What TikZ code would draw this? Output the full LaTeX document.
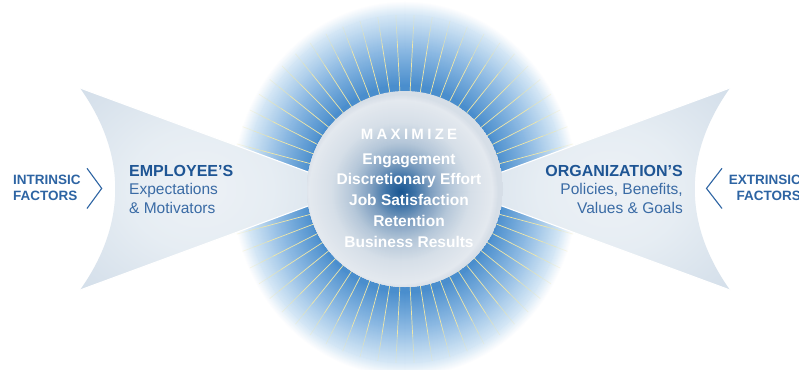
\documentclass[tikz,border=0pt]{standalone}
\usepackage{fontspec}
\setmainfont{Liberation Sans}
\definecolor{glowA}{HTML}{4A8ECD}
\definecolor{glowB}{HTML}{8AB8E2}
\definecolor{glowC}{HTML}{D3E6F5}
\definecolor{coreA}{HTML}{1A5692}
\definecolor{coreB}{HTML}{3F74A8}
\definecolor{coreC}{HTML}{7D9EC0}
\definecolor{coreD}{HTML}{B5C7D9}
\definecolor{coreE}{HTML}{D6DFE8}
\definecolor{coreF}{HTML}{E4E9EF}
\definecolor{coreG}{HTML}{D6DEE7}
\definecolor{wedA}{HTML}{EDF1F6}
\definecolor{wedB}{HTML}{E6EDF3}
\definecolor{wedC}{HTML}{D8E2EC}
\definecolor{wedD}{HTML}{D0DCE8}
\definecolor{wedE}{HTML}{C3D4E4}
\definecolor{wedF}{HTML}{B5CADF}
\definecolor{raycol}{HTML}{EFE7A8}
\definecolor{headblue}{HTML}{1E5594}
\definecolor{bodyblue}{HTML}{3A6BA5}
\definecolor{factblue}{HTML}{2D64A3}
\pgfdeclareradialshading{wedgesh}{\pgfpoint{0bp}{0bp}}{color(0bp)=(wedA); color(15bp)=(wedB); color(30bp)=(wedC); color(40bp)=(wedD); color(55bp)=(wedE); color(71bp)=(wedF); color(80bp)=(wedF)}
\newcommand\headfont{\fontsize{16}{19}\selectfont\bfseries}
\newcommand\bodyfont{\fontsize{15.5}{18.5}\selectfont}
\newcommand\factfont{\fontsize{13.5}{16}\selectfont\bfseries}
\newcommand\ctrfont{\fontsize{15.5}{18}\selectfont\bfseries}
\newcommand\maxfont{\fontsize{15}{17}\selectfont\bfseries}
\tikzset{
  ray/.style={raycol, line width=0.7pt},
  edgeline/.style={white, line width=1.1pt},
  chev/.style={factblue, line width=1.1pt, line join=miter},
  ctr/.style={anchor=base, inner sep=0pt, text=white, font=\ctrfont},
  headL/.style={anchor=base west, inner sep=0pt, text=headblue, font=\headfont},
  bodyL/.style={anchor=base west, inner sep=0pt, text=bodyblue, font=\bodyfont},
  headR/.style={anchor=base east, inner sep=0pt, text=headblue, font=\headfont},
  bodyR/.style={anchor=base east, inner sep=0pt, text=bodyblue, font=\bodyfont},
  factL/.style={anchor=base west, inner sep=0pt, text=factblue, font=\factfont},
  factR/.style={anchor=base east, inner sep=0pt, text=factblue, font=\factfont},
}
\begin{document}
\begin{tikzpicture}[x=1pt,y=-1pt]
\useasboundingbox (0,0) rectangle (799,369);
\clip (0,0) rectangle (799,369);
\fill[white] (0,0) rectangle (799,369);
\coordinate (c) at (405,189);
\coordinate (cg) at (401,192);
% glow (stepped radial gradient, slightly taller than wide)
\foreach \ra/\rb/\ca/\cb in {188/174/white/glowC, 174/139/glowC/glowB, 139/104/glowB/glowA, 104/98/glowA/glowA}{
  \pgfmathtruncatemacro\n{\ra-\rb}
  \foreach \k in {0,...,\n}{
    \pgfmathsetmacro\rr{\ra-\k}
    \pgfmathsetmacro\rx{max(0.92*\rr,98)}
    \pgfmathtruncatemacro\p{100*\k/\n}
    \fill[\cb!\p!\ca] (c) ellipse ({\rx pt} and {\rr pt});
  }
}
% rays
\foreach \a in {3,9,...,357}{
  \draw[ray] (c) ++(\a:98pt) -- ++(\a:50pt);
  \draw[ray, opacity=0.6] (c) ++(\a:148pt) -- ++(\a:14pt);
  \draw[ray, opacity=0.3] (c) ++(\a:162pt) -- ++(\a:12pt);
}
% wedges
\path[shading=wedgesh] (80,88) -- (320,176.4) -- (320,201.6) -- (80,290) .. controls (127,224) and (127,154) .. cycle;
\path[shading=wedgesh] (730,88) -- (490,176.4) -- (490,201.6) -- (730,290) .. controls (683,224) and (683,154) .. cycle;
\draw[edgeline] (74.4,85.9) -- (320,176.4);
\draw[edgeline] (74.4,292.1) -- (320,201.6);
\draw[edgeline] (735.6,85.9) -- (490,176.4);
\draw[edgeline] (735.6,292.1) -- (490,201.6);
% core (stepped radial gradient)
\begin{scope}
\clip (c) circle (98pt);
\fill[coreG] (c) circle (98pt);
\foreach \ra/\rb/\ca/\cb in {98/92/coreG/coreF, 92/70/coreF/coreE, 70/50/coreE/coreD, 50/30/coreD/coreC, 30/15/coreC/coreB, 15/1/coreB/coreA}{
  \pgfmathtruncatemacro\n{\ra-\rb}
  \foreach \k in {0,...,\n}{
    \pgfmathsetmacro\rr{\ra-\k}
    \pgfmathtruncatemacro\p{100*\k/\n}
    \fill[\cb!\p!\ca] (cg) circle (\rr pt);
  }
}
\end{scope}
\node[circle, minimum size=196pt, inner sep=0pt] (core) at (c) {};
% centre text
\node[ctr, font=\maxfont] (max) at (409,139.3) {M\kern3.3pt A\kern3.3pt X\kern3.3pt I\kern3.3pt M\kern3.3pt I\kern3.3pt Z\kern3.3pt E};
\node[ctr] (eng) at (409,164) {Engagement};
\node[ctr] (dis) at (409,184.8) {Discretionary Effort};
\node[ctr] (job) at (409,205.6) {Job Satisfaction};
\node[ctr] (ret) at (409,226.4) {Retention};
\node[ctr] (bus) at (409,247.2) {Business Results};
% left text
\node[factL] (intr) at (13,184.3) {INTRINSIC};
\node[factL] (intf) at (13,200.7) {FACTORS};
\coordinate (lc1) at (87,168.3);
\coordinate (lc2) at (101.7,188.4);
\coordinate (lc3) at (87,208.5);
\draw[chev] (lc1) -- (lc2) -- (lc3);
\node[headL] (emp) at (129,176) {EMPLOYEE’S};
\node[bodyL] (exp) at (129,194.5) {Expectations};
\node[bodyL] (mot) at (129,213) {\& Motivators};
% right text
\node[headR] (org) at (683,176) {ORGANIZATION’S};
\node[bodyR] (pol) at (683,194.5) {Policies, Benefits,};
\node[bodyR] (val) at (683,213) {Values \& Goals};
\coordinate (rc1) at (722,168.3);
\coordinate (rc2) at (706.5,188.4);
\coordinate (rc3) at (722,208.5);
\draw[chev] (rc1) -- (rc2) -- (rc3);
\node[factR] (extr) at (801,184.3) {EXTRINSIC};
\node[factR] (extf) at (801,200.7) {FACTORS};
\end{tikzpicture}
\end{document}
